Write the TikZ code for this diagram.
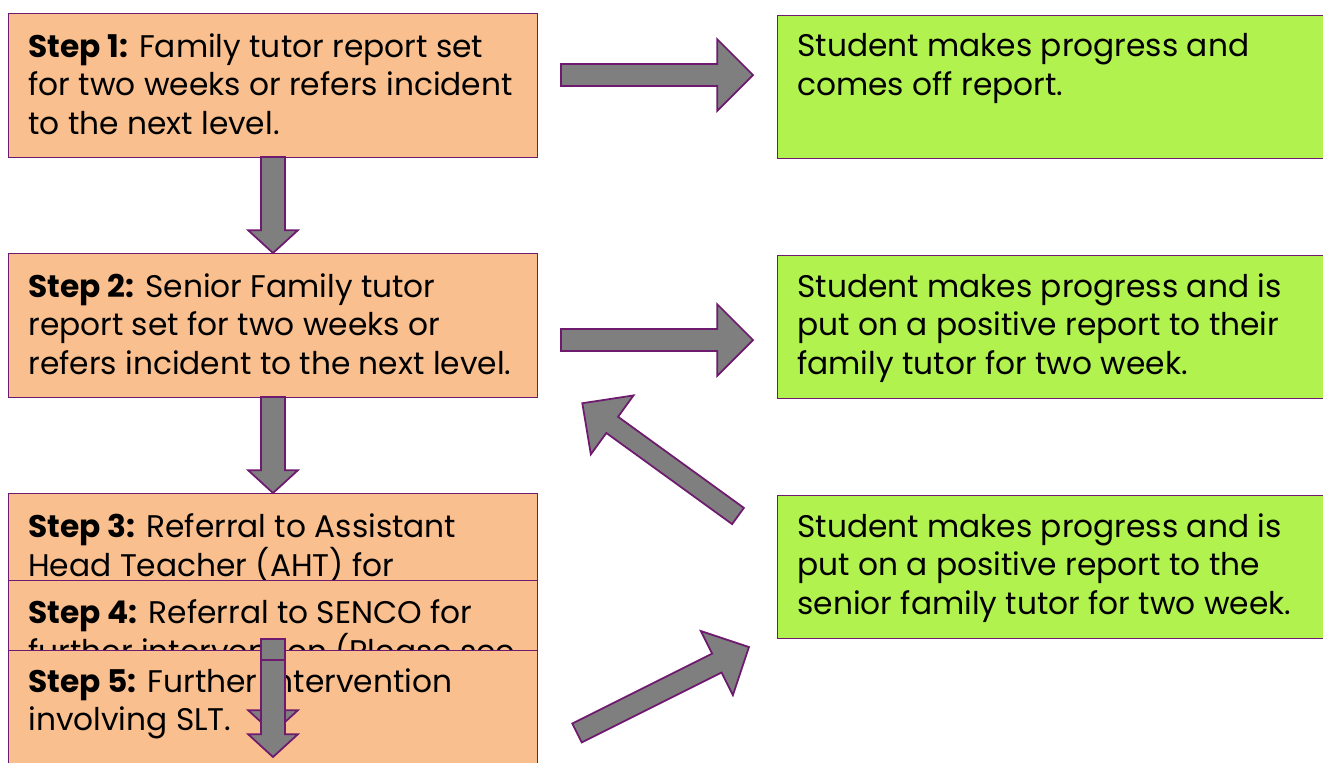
\documentclass[tikz,border=0pt]{standalone}
\usepackage{fontspec}
\setmainfont{Poppins}
\usetikzlibrary{calc}

\definecolor{peach}{HTML}{F9BF8F}
\definecolor{lime}{HTML}{B2F24F}
\definecolor{plum}{HTML}{6E1A6E}
\definecolor{arrowgray}{HTML}{7F7F7F}

\tikzset{
  stepbox/.style={draw=plum,fill=peach,line width=0.8pt,anchor=north west,minimum width=10.58cm,inner sep=0pt},
  outbox/.style={draw=plum,fill=lime,line width=0.8pt,anchor=north west,minimum width=11.4cm,minimum height=2.86cm,inner sep=0pt},
  boxtext/.style={anchor=north west,align=left,inner sep=0pt,font=\fontsize{17.8}{22.1}\selectfont},
  fatarrow/.style={draw=plum,fill=arrowgray,line width=1pt,line join=miter}
}

\newcommand{\blockarrow}[5]{%
  \draw[fatarrow] let \p1=(#1), \p2=(#2),
    \n1={atan2(\y2-\y1,\x2-\x1)}, \n2={veclen(\x2-\x1,\y2-\y1)} in
    [shift={(\p1)}, rotate=\n1]
    (0pt,-#3) -- ({\n2-#5},-#3) -- ({\n2-#5},-#4) -- (\n2,0pt)
    -- ({\n2-#5},#4) -- ({\n2-#5},#3) -- (0pt,#3) -- cycle;}

\begin{document}
\begin{tikzpicture}[x=0.02cm,y=-0.02cm]
\clip (0,0) rectangle (1323,762);
\fill[white] (0,0) rectangle (1323,762);

\node(S1) [stepbox,minimum height=2.88cm] at (8,13) {};
\node(T1) [boxtext] at ([shift={(20,20)}]S1.north west) {\textbf{Step 1:} Family tutor report set\\for two weeks or refers incident\\to the next level.};
\node(S2) [stepbox,minimum height=2.88cm] at (8,253) {};
\node(T2) [boxtext] at ([shift={(20,20)}]S2.north west) {\textbf{Step 2:} Senior Family tutor\\report set for two weeks or\\refers incident to the next level.};
\node(S3) [stepbox,minimum height=2.6cm] at (8,493) {};
\node(T3) [boxtext] at ([shift={(20,20)}]S3.north west) {\textbf{Step 3:} Referral to Assistant\\Head Teacher (AHT) for};
\node(S4) [stepbox,minimum height=2.6cm] at (8,580) {};
\node(T4) [boxtext] at ([shift={(20,19)}]S4.north west) {\textbf{Step 4:} Referral to SENCO for\\further intervention (Please see};
\node(S5) [stepbox,minimum height=3cm] at (8,650) {};
\node(T5) [boxtext] at ([shift={(20,18)}]S5.north west) {\textbf{Step 5:} Further intervention\\involving SLT.};

\node(G1) [outbox] at (777,15) {};
\node(U1) [boxtext] at ([shift={(20,18)}]G1.north west) {Student makes progress and\\comes off report.};
\node(G2) [outbox] at (777,255) {};
\node(U2) [boxtext] at ([shift={(20,18)}]G2.north west) {Student makes progress and is\\put on a positive report to their\\family tutor for two week.};
\node(G3) [outbox] at (777,495) {};
\node(U3) [boxtext] at ([shift={(20,18)}]G3.north west) {Student makes progress and is\\put on a positive report to the\\senior family tutor for two week.};

\coordinate(D1) at (273,157);
\coordinate(D2) at (273,397);
\coordinate(D3) at (273,639);
\coordinate(D3e) at (273,733);
\coordinate(D4) at (273,660);
\coordinate(D4e) at (273,757);
\coordinate(R1) at (561,75);
\coordinate(R1e) at (753,75);
\coordinate(R2) at (561,340);
\coordinate(R2e) at (753,340);
\coordinate(B1) at (738,516);
\coordinate(B1e) at (582,403);
\coordinate(B2) at (577,733);
\coordinate(B2e) at (749,647);

\blockarrow{D1}{S2.north -| D1}{6.8pt}{14.2pt}{13pt}
\blockarrow{D2}{S3.north -| D2}{6.8pt}{14.2pt}{13pt}
\blockarrow{D3}{D3e}{6.8pt}{14.2pt}{13pt}
\blockarrow{D4}{D4e}{6.8pt}{14.2pt}{13pt}
\blockarrow{R1}{R1e}{6.2pt}{20.4pt}{20.4pt}
\blockarrow{R2}{R2e}{6.2pt}{20.4pt}{20.4pt}
\blockarrow{B1}{B1e}{5.7pt}{20.7pt}{21pt}
\blockarrow{B2}{B2e}{6pt}{20.4pt}{20.4pt}
\end{tikzpicture}
\end{document}
